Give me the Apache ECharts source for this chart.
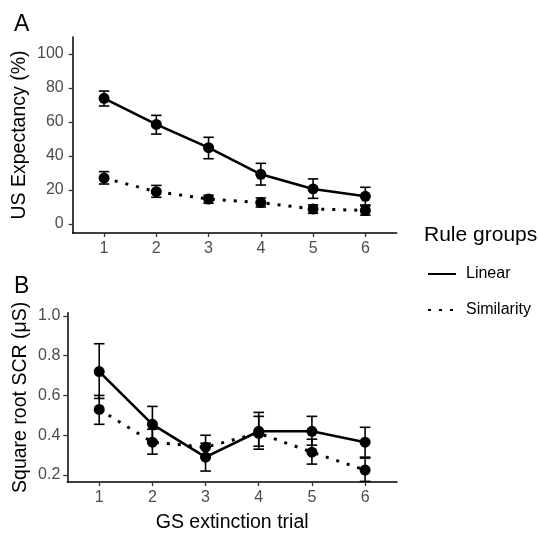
<!DOCTYPE html>
<html>
<head>
<meta charset="utf-8">
<script src="https://cdn.jsdelivr.net/npm/echarts@6/dist/echarts.min.js"></script>
<style>
html,body{margin:0;padding:0;background:#fff;}
#chart{width:538px;height:534px;}
</style>
</head>
<body>
<div id="chart"></div>
<script>
// ---- Data ----
var trials = [1, 2, 3, 4, 5, 6];
var xTicks = [1, 2, 3, 4, 5, 6];
var yTicksA = [0, 20, 40, 60, 80, 100];
var yTicksB = [0.2, 0.4, 0.6, 0.8, 1.0];
var groups = ['Linear', 'Similarity'];

// Panel A: US Expectancy (%)
var linearA   = [73.9, 58.6, 44.9, 29.2, 20.6, 16.3];
var linearALo = [69.4, 52.9, 38.4, 22.9, 15.1, 11.2];
var linearAHi = [78.2, 63.9, 51.0, 35.7, 26.5, 21.6];
var simA      = [27.0, 19.0, 14.7, 12.6, 8.8, 8.0];
var simALo    = [23.5, 15.7, 12.2, 10.0, 6.3, 5.2];
var simAHi    = [30.8, 22.7, 16.9, 15.3, 11.2, 10.6];

// Panel B: Square root SCR (µS)
var linearB   = [0.72, 0.455, 0.29, 0.42, 0.42, 0.365];
var linearBLo = [0.585, 0.37, 0.22, 0.33, 0.35, 0.285];
var linearBHi = [0.86, 0.545, 0.36, 0.515, 0.495, 0.44];
var simB      = [0.53, 0.365, 0.34, 0.41, 0.315, 0.225];
var simBLo    = [0.455, 0.305, 0.29, 0.345, 0.255, 0.168];
var simBHi    = [0.60, 0.43, 0.40, 0.495, 0.38, 0.29];

// ---- Helpers ----
var FONT = '"Liberation Sans", Arial, sans-serif';
function pts(vals) { return trials.map(function (t, i) { return [t, vals[i]]; }); }
function errs(lo, hi) { return trials.map(function (t, i) { return [t, lo[i], hi[i]]; }); }

function errRender(params, api) {
  var x = api.value(0), lo = api.value(1), hi = api.value(2);
  var pHi = api.coord([x, hi]);
  var pLo = api.coord([x, lo]);
  var hw = api.size([0.1, 0])[0];
  var st = { stroke: '#000', lineWidth: 1.6 };
  return {
    type: 'group',
    children: [
      { type: 'line', shape: { x1: pHi[0], y1: pHi[1], x2: pLo[0], y2: pLo[1] }, style: st },
      { type: 'line', shape: { x1: pHi[0] - hw, y1: pHi[1], x2: pHi[0] + hw, y2: pHi[1] }, style: st },
      { type: 'line', shape: { x1: pLo[0] - hw, y1: pLo[1], x2: pLo[0] + hw, y2: pLo[1] }, style: st }
    ]
  };
}

var solid = { color: '#000', width: 2.6, type: 'solid' };
var dotted = { color: '#000', width: 3, type: [3, 8], cap: 'butt' };

function lineSeries(name, vals, idx, ls) {
  return { name: name, type: 'line', xAxisIndex: idx, yAxisIndex: idx, data: pts(vals),
    symbol: 'none', lineStyle: ls, itemStyle: { color: '#000' }, z: 2, silent: true, animation: false };
}
function pointSeries(vals, idx) {
  return { type: 'scatter', xAxisIndex: idx, yAxisIndex: idx, data: pts(vals),
    symbol: 'circle', symbolSize: 11, itemStyle: { color: '#000', opacity: 1 }, z: 3, silent: true, animation: false };
}
function errSeries(lo, hi, idx) {
  return { type: 'custom', xAxisIndex: idx, yAxisIndex: idx, data: errs(lo, hi),
    renderItem: errRender, z: 4, silent: true, animation: false };
}

function xAxis(idx, withName) {
  var a = {
    type: 'value', gridIndex: idx, min: 0.4, max: 6.6,
    splitLine: { show: false },
    axisLine: { onZero: false, lineStyle: { color: '#000', width: 1.5 } },
    axisTick: { show: true, length: 4, customValues: xTicks, lineStyle: { color: '#333', width: 1.3 } },
    axisLabel: { customValues: xTicks, color: '#4D4D4D', fontSize: 16, fontFamily: FONT, margin: 8 }
  };
  if (withName) {
    a.name = 'GS extinction trial';
    a.nameLocation = 'middle';
    a.nameGap = 31;
    a.nameMoveOverlap = false;
    a.nameTextStyle = { color: '#000', fontSize: 19.5, fontFamily: FONT };
  }
  return a;
}
function yAxis(idx, min, max, ticks, name, gap, fmt, margin) {
  return {
    type: 'value', gridIndex: idx, min: min, max: max,
    name: name, nameLocation: 'middle', nameGap: gap, nameMoveOverlap: false,
    nameTextStyle: { color: '#000', fontSize: 19.5, fontFamily: FONT },
    splitLine: { show: false },
    axisLine: { onZero: false, lineStyle: { color: '#000', width: 1.5 } },
    axisTick: { show: true, length: 4, customValues: ticks, lineStyle: { color: '#333', width: 1.3 } },
    axisLabel: { customValues: ticks, color: '#4D4D4D', fontSize: 16, fontFamily: FONT, margin: margin, formatter: fmt }
  };
}

var chart = echarts.init(document.getElementById('chart'), null, { renderer: 'canvas' });
chart.setOption({
  backgroundColor: '#fff',
  animation: false,
  title: [
    { text: 'A', left: 9, top: 8, textStyle: { fontSize: 23, fontWeight: 'normal', color: '#000', fontFamily: FONT } },
    { text: 'B', left: 9, top: 270, textStyle: { fontSize: 23, fontWeight: 'normal', color: '#000', fontFamily: FONT } },
    { text: 'Rule groups', left: 419, top: 220, textStyle: { fontSize: 21, fontWeight: 'normal', color: '#000', fontFamily: FONT } }
  ],
  legend: {
    data: groups, orient: 'vertical', left: 422, top: 261,
    itemWidth: 28, itemHeight: 14, itemGap: 20,
    itemStyle: { opacity: 0 },
    textStyle: { fontSize: 16, color: '#000', fontFamily: FONT, padding: [0, 0, 0, 5] },
    selectedMode: false
  },
  grid: [
    { left: 72.7, top: 37, width: 324, height: 196 },
    { left: 67.3, top: 312.7, width: 329.7, height: 171.8 }
  ],
  xAxis: [xAxis(0, false), xAxis(1, true)],
  yAxis: [
    yAxis(0, -5.3, 110, yTicksA, 'US Expectancy (%)', 43, function (v) { return String(v); }, 9),
    yAxis(1, 0.165, 1.016, yTicksB, 'Square root SCR (μS)', 37, function (v) { return v.toFixed(1); }, 7)
  ],
  series: [
    lineSeries('Linear', linearA, 0, solid),
    lineSeries('Similarity', simA, 0, dotted),
    pointSeries(linearA, 0), pointSeries(simA, 0),
    errSeries(linearALo, linearAHi, 0), errSeries(simALo, simAHi, 0),
    lineSeries('Linear', linearB, 1, solid),
    lineSeries('Similarity', simB, 1, dotted),
    pointSeries(linearB, 1), pointSeries(simB, 1),
    errSeries(linearBLo, linearBHi, 1), errSeries(simBLo, simBHi, 1)
  ]
});
</script>
</body>
</html>
